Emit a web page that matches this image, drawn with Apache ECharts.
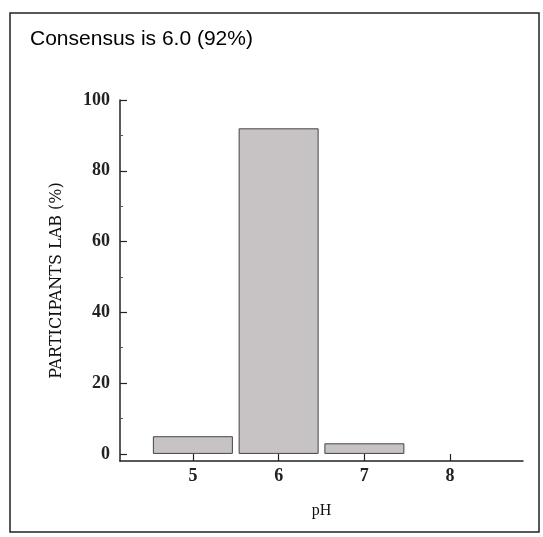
<!DOCTYPE html>
<html>
<head>
<meta charset="utf-8">
<script src="https://cdn.jsdelivr.net/npm/echarts@6/dist/echarts.min.js"></script>
<style>html,body{margin:0;padding:0;background:#fff;}#c{width:543px;height:537px;}</style>
</head>
<body>
<div id="c"></div>
<script>
var categories = [5, 6, 7, 8];
var values = [5, 92, 3, 0];
var yTicks = [0, 20, 40, 60, 80, 100];
var yMinorTicks = [10, 30, 50, 70, 90];

var chart = echarts.init(document.getElementById('c'));
var serif = 'Liberation Serif';
chart.setOption({
  animation: false,
  backgroundColor: '#fff',
  title: {
    text: 'Consensus is 6.0 (92%)',
    left: 25, top: 24,
    textStyle: { fontFamily: 'Liberation Sans', fontSize: 21, fontWeight: 'normal', color: '#000' }
  },
  graphic: [{
    type: 'rect', shape: { x: 10, y: 13, width: 529, height: 519 },
    style: { fill: 'none', stroke: '#222', lineWidth: 1.5 }, silent: true
  }],
  grid: { left: 120, right: 20, top: 100, bottom: 76 },
  xAxis: {
    type: 'value', min: 4.15, max: 8.85,
    name: 'pH', nameLocation: 'middle', nameGap: 42,
    nameTextStyle: { fontFamily: serif, fontSize: 16, color: '#111' },
    axisLine: { show: true, onZero: false, lineStyle: { color: '#222', width: 1.5 } },
    axisTick: { show: true, inside: true, length: 7, customValues: categories, lineStyle: { color: '#222', width: 1.2 } },
    axisLabel: { customValues: categories, fontFamily: serif, fontSize: 18, fontWeight: 'bold', color: '#222', margin: 6 },
    splitLine: { show: false }
  },
  yAxis: [{
    type: 'value', min: -2, max: 100,
    name: 'PARTICIPANTS LAB (%)', nameLocation: 'middle', nameGap: 55, nameRotate: 90,
    nameTextStyle: { fontFamily: 'DejaVu Serif', fontSize: 16, color: '#111' },
    axisLine: { show: true, onZero: false, lineStyle: { color: '#222', width: 1.5 } },
    axisTick: { show: true, inside: true, length: 7, customValues: yTicks, lineStyle: { color: '#222', width: 1.2 } },
    axisLabel: { customValues: yTicks, fontFamily: serif, fontSize: 18, fontWeight: 'bold', color: '#222', margin: 10 },
    splitLine: { show: false }
  }, {
    type: 'value', min: -2, max: 100, position: 'left',
    axisLine: { show: false },
    axisTick: { show: true, inside: true, length: 3, customValues: yMinorTicks, lineStyle: { color: '#555', width: 1 } },
    axisLabel: { show: false },
    splitLine: { show: false }
  }],
  series: [{
    type: 'bar',
    yAxisIndex: 0,
    barWidth: 80,
    data: categories.map(function (c, i) { return values[i] > 0 ? [c, values[i]] : [c, '-']; }),
    itemStyle: { color: '#c7c3c4', borderColor: '#444', borderWidth: 1 }
  }]
});
</script>
</body>
</html>
